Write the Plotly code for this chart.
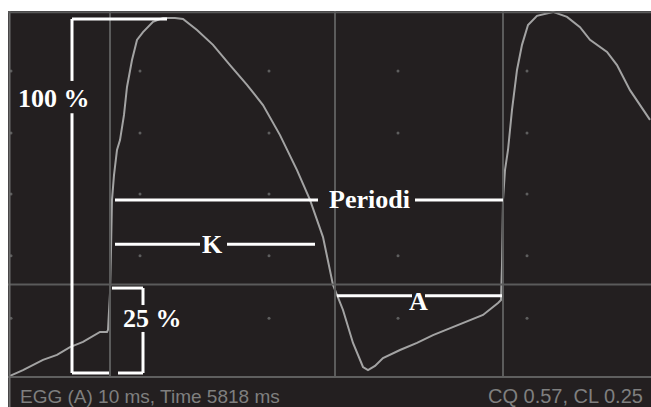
import plotly.graph_objects as go

# EGG waveform (sample index, amplitude in % of peak-to-peak)
t = [2, 15, 35, 49, 62, 75, 92, 99, 100, 102, 103, 104, 106, 109, 112, 116, 119, 124,
     129, 135, 145, 155, 167, 175, 189, 205, 222, 239, 255, 272, 289, 302, 315, 325,
     335, 345, 355, 360, 367, 375, 392, 409, 425, 442, 459, 475, 490, 493, 494, 495,
     497, 500, 504, 509, 514, 520, 529, 545, 559, 572, 582, 599, 609, 622, 642]
egg = [-0.8, 0.8, 3.7, 5.1, 7.3, 8.8, 11.6, 11.6, 12.2, 22.6, 34.8, 48.9, 55.9, 63.0,
       65.8, 72.9, 80.8, 88.4, 94.1, 96.3, 99.2, 100.3, 100.3, 100.0, 96.9, 92.7, 87.0,
       81.4, 75.7, 67.2, 57.3, 48.9, 38.4, 24.9, 17.8, 8.5, 1.7, 0.8, 2.0, 4.2, 6.5, 8.5,
       10.7, 12.7, 14.7, 16.4, 19.8, 20.6, 30.5, 48.9, 57.3, 63.0, 74.3, 85.6, 92.7, 98.3,
       100.9, 102.0, 100.6, 97.7, 94.1, 90.7, 87.0, 79.9, 71.5]

cycle_marks = [102, 327, 495]      # glottal cycle boundaries (samples)
threshold = 25                      # contact threshold (%)
dot_t = [132, 261, 390, 519]
dot_amp = [85.3, 67.8, 50.6, 33.1, 15.5]

status_left = "EGG (A) 10 ms, Time 5818 ms"
status_right = "CQ 0.57, CL 0.25"

BG = "#231f20"
GRID = "#5b5b5b"
WAVE = "#a3a3a3"
WHITE = "#ffffff"
Y_TOP, Y_BOT = 102.26, -9.60
SEP = -1.13

fig = go.Figure()

# grid dots
gx, gy = [], []
for a in dot_amp:
    for x in dot_t:
        gx.append(x); gy.append(a)
    gx.append(3); gy.append(a)
fig.add_trace(go.Scatter(x=gx, y=gy, mode="markers",
                         marker=dict(size=3, color="#5e5e5e"), hoverinfo="skip"))

shapes = []
def seg(x0, y0, x1, y1, color=WHITE, width=3):
    shapes.append(dict(type="line", xref="x", yref="y", x0=x0, y0=y0, x1=x1, y1=y1,
                       line=dict(color=color, width=width), layer="above"))

# frame and grid lines
for c in cycle_marks:
    seg(c, SEP, c, Y_TOP, GRID, 2)
seg(0, threshold, 643, threshold, GRID, 2)
seg(0, SEP, 643, SEP, "#5f5f5f", 2)
seg(1.5, Y_BOT, 1.5, Y_TOP, "#6e6e6e", 2)
seg(0, 101.9, 643, 101.9, "#5a5a5a", 2)

fig.add_trace(go.Scatter(x=t, y=egg, mode="lines",
                         line=dict(color=WAVE, width=2), hoverinfo="skip"))

# 100 % bracket
seg(64, 100, 159, 100)
seg(64, 100, 64, 82.5)
seg(64, 73.4, 64, 0)
seg(64, 0, 101, 0)
# 25 % bracket
seg(104, 24.0, 135, 24.0)
seg(135, 24.0, 135, 19.2)
seg(135, 11.6, 135, 0)
seg(110, 0, 135, 0)
# Periodi
seg(107, 48.9, 310, 48.9)
seg(407, 48.9, 495, 48.9)
# K
seg(107, 36.4, 192, 36.4)
seg(219, 36.4, 307, 36.4)
# A
seg(329, 21.8, 404, 21.8)
seg(417, 21.8, 494, 21.8)

lab_font = dict(family="Liberation Serif", size=26, color=WHITE)
annotations = [
    dict(x=46, y=77.5, text="<b>100 %</b>"),
    dict(x=144, y=15.5, text="<b>25 %</b>"),
    dict(x=361, y=48.9, text="<b>Periodi</b>"),
    dict(x=204, y=36.4, text="<b>K</b>"),
    dict(x=410, y=20.3, text="<b>A</b>"),
]
for a in annotations:
    a.update(xref="x", yref="y", showarrow=False, font=lab_font,
             xanchor="center", yanchor="middle")

stat_font = dict(family="Liberation Sans", size=19, color="#7f7f7f")
annotations.append(dict(x=10, y=-6.5, xref="x", yref="y", text=status_left,
                        showarrow=False, font=stat_font, xanchor="left", yanchor="middle"))
annotations.append(dict(x=637, y=-6.5, xref="x", yref="y", text=status_right,
                        showarrow=False, font=dict(family="Liberation Sans", size=20, color="#7f7f7f"),
                        xanchor="right", yanchor="middle"))

fig.update_layout(
    width=651, height=407,
    margin=dict(l=8, r=0, t=11, b=0, pad=0),
    paper_bgcolor="white", plot_bgcolor=BG,
    showlegend=False,
    xaxis=dict(range=[0, 643], visible=False, fixedrange=True),
    yaxis=dict(range=[Y_BOT, Y_TOP], visible=False, fixedrange=True),
    shapes=shapes, annotations=annotations,
)

fig.write_html(
    "out.html",
    config={"displayModeBar": False},
    post_script="document.body.style.margin='0';document.body.style.overflow='hidden';",
)
